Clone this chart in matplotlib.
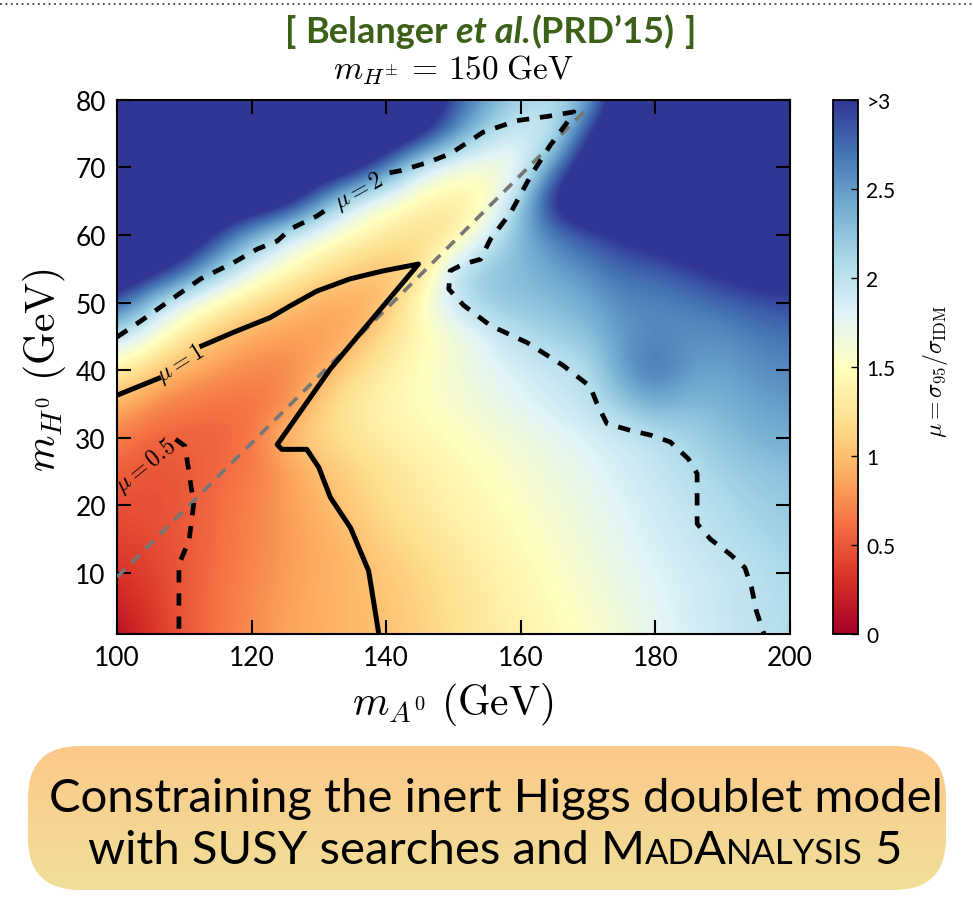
import numpy as np
import matplotlib.pyplot as plt
from matplotlib.patches import FancyBboxPatch

plt.rcParams['mathtext.fontset'] = 'cm'
plt.rcParams['font.family'] = ['Lato', 'DejaVu Sans']

# grid (mu = sigma95 / sigma_IDM), rows go up in m_H0
m_A0 = [100, 105, 110, 115, 120, 125, 130, 135, 140, 145, 150,
        155, 160, 165, 170, 175, 180, 185, 190, 195, 200]
m_H0 = [0, 5, 10, 15, 20, 25, 30, 35, 40, 45, 50, 55, 60, 65, 70, 75, 80]
mu_grid = [
    [0.05, 0.30, 0.50, 0.63, 0.75, 0.85, 0.92, 0.97, 1.02, 1.10, 1.20, 1.30, 1.38, 1.45, 1.52, 1.63, 1.75, 1.84, 1.92, 1.98, 2.05],
    [0.20, 0.35, 0.50, 0.63, 0.74, 0.84, 0.91, 0.97, 1.03, 1.12, 1.22, 1.32, 1.40, 1.48, 1.56, 1.67, 1.77, 1.85, 1.93, 2.00, 2.07],
    [0.30, 0.40, 0.50, 0.62, 0.72, 0.82, 0.90, 0.97, 1.05, 1.14, 1.25, 1.34, 1.43, 1.52, 1.62, 1.72, 1.80, 1.87, 1.93, 2.01, 2.10],
    [0.40, 0.43, 0.50, 0.60, 0.70, 0.80, 0.90, 1.00, 1.12, 1.22, 1.32, 1.40, 1.48, 1.57, 1.66, 1.76, 1.85, 1.92, 2.02, 2.10, 2.15],
    [0.45, 0.47, 0.50, 0.60, 0.70, 0.82, 0.95, 1.07, 1.20, 1.30, 1.38, 1.45, 1.53, 1.62, 1.70, 1.80, 1.88, 1.97, 2.07, 2.15, 2.20],
    [0.55, 0.47, 0.50, 0.58, 0.66, 0.80, 0.99, 1.12, 1.25, 1.33, 1.42, 1.50, 1.58, 1.67, 1.76, 1.85, 1.94, 2.04, 2.15, 2.22, 2.28],
    [0.68, 0.55, 0.55, 0.55, 0.62, 1.00, 1.15, 1.25, 1.35, 1.42, 1.49, 1.57, 1.65, 1.73, 1.82, 1.90, 2.00, 2.12, 2.25, 2.35, 2.40],
    [0.95, 0.75, 0.65, 0.62, 0.62, 0.70, 1.10, 1.30, 1.42, 1.50, 1.58, 1.67, 1.78, 1.88, 1.98, 2.20, 2.40, 2.30, 2.35, 2.45, 2.50],
    [1.35, 1.10, 0.90, 0.80, 0.72, 0.72, 0.85, 1.15, 1.35, 1.50, 1.62, 1.75, 1.85, 1.95, 2.02, 2.50, 2.75, 2.50, 2.45, 2.55, 2.60],
    [2.00, 1.65, 1.25, 1.02, 0.88, 0.82, 0.82, 0.90, 1.20, 1.42, 1.60, 1.82, 2.05, 2.15, 2.25, 2.50, 2.60, 2.55, 2.55, 2.65, 2.70],
    [2.90, 2.20, 1.75, 1.45, 1.20, 1.05, 0.90, 0.88, 0.98, 1.50, 1.95, 2.20, 2.25, 2.30, 2.40, 2.60, 2.60, 2.65, 2.75, 2.85, 2.90],
    [3.50, 3.30, 2.85, 2.25, 1.80, 1.50, 1.25, 1.10, 1.00, 1.08, 2.00, 2.25, 2.30, 2.45, 2.60, 2.75, 2.80, 2.95, 3.10, 3.20, 3.25],
    [3.50, 3.50, 3.45, 2.95, 2.40, 1.95, 1.65, 1.45, 1.30, 1.20, 1.20, 1.85, 2.35, 2.65, 2.85, 3.05, 3.20, 3.30, 3.40, 3.50, 3.50],
    [3.50, 3.50, 3.50, 3.50, 3.50, 3.30, 2.60, 1.90, 1.60, 1.40, 1.30, 1.40, 2.20, 3.20, 3.50, 3.50, 3.50, 3.50, 3.50, 3.50, 3.50],
    [3.50, 3.50, 3.50, 3.50, 3.50, 3.50, 3.50, 3.30, 2.70, 1.90, 1.65, 1.55, 1.65, 2.60, 3.40, 3.50, 3.50, 3.50, 3.50, 3.50, 3.50],
    [3.50, 3.50, 3.50, 3.50, 3.50, 3.50, 3.50, 3.50, 3.50, 3.20, 2.60, 2.10, 1.85, 1.90, 3.00, 3.50, 3.50, 3.50, 3.50, 3.50, 3.50],
    [3.50, 3.50, 3.50, 3.50, 3.50, 3.50, 3.50, 3.50, 3.50, 3.50, 2.90, 2.45, 2.15, 2.05, 2.30, 3.50, 3.50, 3.50, 3.50, 3.50, 3.50],
]

# contour lines (nan = gap for the inline label)
mu1_x = [100, 106.2, np.nan, 112.6, 117.3, 122.8, 125.7, 129.7, 134.6, 139.6, 144.8,
         131.7, 123.8, 124.5, 128.2, 130.0, 131.7, 134.7, 137.4, 138.9]
mu1_y = [36.3, 38.8, np.nan, 43.6, 45.6, 47.8, 49.5, 51.7, 53.5, 54.7, 55.7,
         40.2, 29.0, 28.3, 28.3, 25.6, 21.2, 16.7, 10.3, 1.0]
mu2_x = [100, 104.0, 107.4, 112.4, 117.3, 120.8, 123.8, 125.8, 129.7, 131.5, np.nan,
         140.5, 142.1, 146.1, 149.5, 154.4, 159.4, 164.4, 167.9, 167.3, 164.4, 161.5,
         158.5, 155.5, 154.0, 151.5, 149.5, 149.3, 151.5, 155.5, 160.9, 166.3, 170.3,
         171.3, 172.8, 176.3, 179.3, 182.2, 184.9, 186.2, 186.2, 188.2, 191.1, 193.3,
         194.3, 195.0, 196.2]
mu2_y = [44.9, 47.6, 50.0, 53.5, 55.9, 57.9, 59.1, 60.9, 62.8, 64.0, np.nan,
         69.2, 69.5, 70.7, 72.0, 75.2, 76.9, 77.6, 78.2, 77.2, 73.3, 68.8,
         63.3, 59.4, 56.4, 55.7, 54.7, 52.0, 49.6, 46.6, 44.1, 40.7, 37.6,
         35.1, 32.1, 31.1, 30.4, 29.4, 26.9, 24.7, 17.3, 15.0, 12.8, 10.8,
         7.8, 4.4, 0.8]
mu05_x = [108.7, 110.1, 111.4, 110.7, 109.2, 109.2]
mu05_y = [29.8, 28.8, 20.2, 14.8, 11.3, 1.0]
ref_x = [100, 170]
ref_y = [9.4, 78.8]

cb_ticks = [0, 0.5, 1, 1.5, 2, 2.5, 3]
cb_labels = ['0', '0.5', '1', '1.5', '2', '2.5', '>3']

W, H = 973, 912
fig = plt.figure(figsize=(W / 100, H / 100), dpi=100)

# pixel overlay for the slide decorations
bg = fig.add_axes([0, 0, 1, 1])
bg.axis('off')

bg.plot([0, W], [5, 5], color='#444444', lw=1.3, ls=(0, (1, 2)))

# banner with vertical gradient
box = FancyBboxPatch((28, 747), 918, 144, boxstyle='round,pad=0,rounding_size=52',
                     facecolor='none', edgecolor='none')
bg.add_patch(box)
grad = np.linspace(0, 1, 100).reshape(-1, 1)
top_c = np.array([252, 200, 136]) / 255
bot_c = np.array([240, 224, 154]) / 255
img = top_c[None, None, :] * (1 - grad[:, :, None]) + bot_c[None, None, :] * grad[:, :, None]
im = bg.imshow(img, extent=(28, 946, 891, 747), aspect='auto', zorder=1)
im.set_clip_path(box)
bg.set_xlim(0, W)
bg.set_ylim(H, 0)

renderer = fig.canvas.get_renderer()


def put_runs(runs, xc, y, color='k'):
    # runs: (text, size, weight, style, gap after)
    items = []
    total = 0
    for s, size, weight, style, gap in runs:
        t = bg.text(0, y, s, fontsize=size, fontweight=weight, fontstyle=style,
                    color=color, ha='left', va='baseline', zorder=3)
        w = t.get_window_extent(renderer).width
        items.append((t, w, gap))
        total += w + gap
    total -= items[-1][2]
    x = xc - total / 2
    for t, w, gap in items:
        t.set_x(x)
        x += w + gap


green = '#3d6019'
put_runs([('[', 26, 'bold', 'normal', 9), ('Belanger', 26, 'bold', 'normal', 8),
          ('et al.', 26, 'bold', 'italic', 1), ("(PRD\u201915)", 26, 'bold', 'normal', 9),
          (']', 26, 'bold', 'normal', 0)], 490, 43, color=green)

put_runs([('Constraining the inert Higgs doublet model', 34, 'normal', 'normal', 0)], 496, 812)
put_runs([('with SUSY searches and', 34, 'normal', 'normal', 11), ('M', 34, 'normal', 'normal', 0),
          ('AD', 25, 'normal', 'normal', 0), ('A', 34, 'normal', 'normal', 0),
          ('NALYSIS', 25, 'normal', 'normal', 11), ('5', 34, 'normal', 'normal', 0)], 495, 864)

# main heat map
ax = fig.add_axes([117 / W, 1 - 635 / H, 673 / W, 534.3 / H])
mesh = ax.imshow(np.array(mu_grid), origin='lower', aspect='auto',
                 extent=(m_A0[0] - 2.5, m_A0[-1] + 2.5, m_H0[0] - 2.5, m_H0[-1] + 2.5),
                 interpolation='bicubic', cmap='RdYlBu', vmin=0, vmax=3)

ax.plot(ref_x, ref_y, color='#767676', lw=2.6, dashes=(3.2, 2.4), zorder=3)
ax.plot(mu1_x, mu1_y, color='k', lw=3.6, solid_joinstyle='round', zorder=4)
ax.plot(mu2_x, mu2_y, color='k', lw=3.4, dashes=(2.6, 2.3), zorder=4)
ax.plot(mu05_x, mu05_y, color='k', lw=3.4, dashes=(2.6, 2.3), zorder=4)

ax.text(109.4, 41.1, r'$\mu=1$', fontsize=17, rotation=32, ha='center', va='center', zorder=5)
ax.text(136.0, 66.6, r'$\mu=2$', fontsize=17, rotation=29, ha='center', va='center', zorder=5)
ax.text(104.2, 26.0, r'$\mu=0.5$', fontsize=17, rotation=39, ha='center', va='center', zorder=5)

ax.set_xlim(100, 200)
ax.set_ylim(1, 80)
ax.set_xticks([100, 120, 140, 160, 180, 200])
ax.set_yticks([10, 20, 30, 40, 50, 60, 70, 80])
ax.tick_params(direction='in', length=10, width=1.5, top=True, right=True,
               labelsize=19, pad=8)
for sp in ax.spines.values():
    sp.set_linewidth(1.5)

fig.text(453 / W, 1 - 705 / H, r'$m_{A^0}\ (\mathrm{GeV})$', fontsize=30,
         ha='center', va='center')
fig.text(45 / W, 1 - 370 / H, r'$m_{H^0}\ (\mathrm{GeV})$', fontsize=30,
         ha='center', va='center', rotation=90)
fig.text(453 / W, 1 - 70 / H, r'$m_{H^{\pm}}\,=\,150\;\mathrm{GeV}$', fontsize=24,
         ha='center', va='center')

cax = fig.add_axes([833 / W, 1 - 635 / H, 25 / W, 534.3 / H])
cb = fig.colorbar(mesh, cax=cax, ticks=cb_ticks)
cb.ax.set_yticklabels(cb_labels)
cb.ax.tick_params(direction='in', length=5, width=1, labelsize=15, pad=6)
cb.outline.set_linewidth(1.3)
fig.text(936 / W, 1 - 372 / H, r'$\mu=\sigma_{95}/\sigma_{\rm IDM}$', fontsize=17,
         ha='center', va='center', rotation=90)

fig.savefig('out.png', dpi=100)
